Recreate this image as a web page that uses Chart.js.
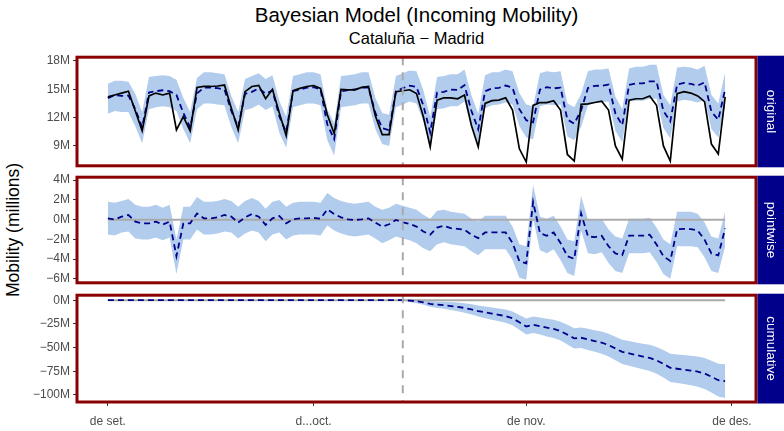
<!DOCTYPE html>
<html>
<head>
<meta charset="utf-8">
<script src="https://cdn.jsdelivr.net/npm/chart.js@4.4.1/dist/chart.umd.min.js"></script>
<style>
  body { margin: 0; width: 784px; height: 431px; background: #fff; position: relative; overflow: hidden;
         font-family: "Liberation Sans", Arial, sans-serif; }
  .t { position: absolute; left: 77px; width: 679px; text-align: center; color: #000; white-space: nowrap; }
  #title { top: 3px; font-size: 20.5px; }
  #subtitle { top: 29px; font-size: 16.5px; }
  #ytitle { position: absolute; left: 13px; top: 230px; transform: translate(-50%, -50%) rotate(-90deg);
            font-size: 17.5px; white-space: nowrap; color: #000; }
  canvas { position: absolute; left: 0; }
</style>
</head>
<body>
<div id="title" class="t">Bayesian Model (Incoming Mobility)</div>
<div id="subtitle" class="t">Cataluña − Madrid</div>
<div id="ytitle">Mobility (millions)</div>
<canvas id="cOriginal" width="784" height="129" style="top:47px"></canvas>
<canvas id="cPointwise" width="784" height="126" style="top:167px"></canvas>
<canvas id="cCumulative" width="784" height="146" style="top:285px"></canvas>
<script>
// day 0 = 1 Sep 2020, last day = 30 Nov 2020
const days = Array.from({ length: 91 }, (_, i) => i);
const interventionDay = 43;

const xTickDays = [0, 30, 61, 91];
const xTickLabels = ['de set.', 'd...oct.', 'de nov.', 'de des.'];

// millions
const original = [14.2,14.4,14.6,14.8,12.7,10.6,14.3,14.6,14.4,14.6,10.7,12.1,10.6,15.2,15.3,15.3,15.35,15.45,13.0,10.7,
  14.75,15.3,15.4,14.0,15.0,12.5,10.1,14.85,15.1,15.3,15.4,15.1,12.3,10.3,15.0,14.95,14.95,15.2,15.3,12.2,
  10.2,10.2,14.75,14.85,14.95,14.55,12.1,8.9,13.85,14.1,14.1,14.0,14.4,11.2,8.9,13.5,13.8,13.85,14.1,12.8,
  8.7,7.3,13.3,13.6,13.6,13.8,12.8,8.1,7.4,13.4,13.45,13.6,13.75,12.8,9.0,7.6,13.85,14.0,14.0,14.3,
  13.3,9.0,7.4,14.55,14.75,14.6,14.3,13.7,9.2,8.15,14.2];
const predicted = [14.07,14.4,14.3,14.33,12.9,10.97,14.67,14.8,14.9,14.8,14.4,12.5,10.97,14.57,15.17,15.17,15.12,14.98,12.7,11.0,
  14.52,14.73,15.1,14.53,14.87,12.13,10.47,14.82,14.97,15.17,15.23,15.0,11.27,9.73,14.77,14.92,14.98,15.17,15.17,12.5,
  10.9,10.67,14.78,15.12,15.38,15.25,13.3,10.43,14.65,14.73,14.97,14.93,15.43,12.73,10.77,14.8,15.1,15.15,15.4,15.17,
  12.9,11.73,11.5,14.97,15.23,15.1,15.17,11.8,11.37,12.77,15.15,15.37,15.38,15.5,12.43,11.2,15.48,15.63,15.63,15.83,
  15.83,12.7,11.6,15.52,15.68,15.57,15.4,15.73,12.63,11.78,15.0];
const predHigh = [15.6,15.9,15.9,15.8,14.5,12.6,16.3,16.4,16.5,16.4,16.0,14.1,12.6,16.2,16.8,16.8,16.7,16.6,14.3,12.6,
  16.1,16.4,16.7,16.1,16.5,13.8,12.1,16.4,16.6,16.8,16.8,16.6,12.9,11.4,16.4,16.5,16.6,16.8,16.8,14.1,
  12.5,12.3,16.4,16.7,17.0,16.9,14.9,12.1,16.3,16.4,16.6,16.6,17.1,14.4,12.4,16.5,16.8,16.8,17.1,16.9,
  14.6,13.4,13.2,16.7,16.9,16.8,16.9,13.5,13.1,14.5,16.9,17.1,17.1,17.2,14.2,12.9,17.2,17.4,17.4,17.6,
  17.6,14.4,13.3,17.3,17.4,17.3,17.1,17.5,14.4,13.5,16.8];
const predLow = [12.4,12.7,12.6,12.6,11.1,9.3,12.9,13.1,13.2,13.1,12.7,10.8,9.3,12.9,13.5,13.5,13.4,13.3,11.0,9.3,
  12.8,13.0,13.4,12.8,13.2,10.4,8.8,13.1,13.3,13.5,13.5,13.3,9.6,8.0,13.1,13.2,13.3,13.5,13.5,10.8,
  9.2,9.0,13.1,13.4,13.7,13.5,11.6,8.7,12.9,13.0,13.2,13.2,13.7,11.0,9.0,13.0,13.3,13.4,13.6,13.4,
  11.1,9.9,9.7,13.2,13.4,13.3,13.4,10.0,9.6,11.0,13.3,13.6,13.6,13.7,10.6,9.4,13.7,13.8,13.8,14.0,
  14.0,10.9,9.8,13.7,13.9,13.8,13.6,13.9,10.8,9.9,13.2];

const pointwise = [0.13,0,0.3,0.47,-0.2,-0.37,-0.37,-0.2,-0.5,-0.2,-3.7,-0.4,-0.37,0.63,0.13,0.13,0.23,0.47,0.3,-0.3,
  0.23,0.57,0.3,-0.53,0.13,0.37,-0.37,0.03,0.13,0.13,0.17,0.1,1.03,0.57,0.23,0.03,-0.03,0.03,0.13,-0.3,
  -0.7,-0.47,-0.03,-0.27,-0.43,-0.7,-1.2,-1.53,-0.8,-0.63,-0.87,-0.93,-1.03,-1.53,-1.87,-1.3,-1.3,-1.3,-1.3,-2.37,
  -4.2,-4.43,1.8,-1.37,-1.63,-1.3,-2.37,-3.7,-3.97,0.63,-1.7,-1.77,-1.63,-2.7,-3.43,-3.6,-1.63,-1.63,-1.63,-1.53,
  -2.53,-3.7,-4.2,-0.97,-0.93,-0.97,-1.1,-2.03,-3.43,-3.63,-0.9];
const pointHigh = [1.8,1.7,1.9,2.1,1.5,1.3,1.3,1.5,1.2,1.5,-2.0,1.3,1.3,2.3,1.8,1.8,1.9,2.1,1.9,1.3,
  1.9,2.2,1.9,1.1,1.8,2.0,1.3,1.7,1.8,1.8,1.8,1.7,2.7,2.2,1.9,1.7,1.6,1.7,1.8,1.3,
  1.0,1.2,1.6,1.4,1.2,1.0,0.5,0.1,0.9,1.0,0.8,0.7,0.6,0.1,-0.2,0.4,0.4,0.4,0.4,-0.7,
  -2.5,-2.7,3.5,0.3,0.1,0.4,-0.7,-2.0,-2.2,2.4,0.0,-0.1,0.1,-1.0,-1.7,-1.9,0.1,0.1,0.1,0.2,
  -0.8,-2.0,-2.5,0.8,0.8,0.8,0.6,-0.3,-1.7,-1.9,0.8];
const pointLow = [-1.5,-1.6,-1.3,-1.2,-1.9,-2.0,-2.0,-1.8,-2.1,-1.8,-5.5,-2.0,-2.0,-1.0,-1.5,-1.5,-1.4,-1.2,-1.3,-1.9,
  -1.4,-1.1,-1.3,-2.2,-1.5,-1.3,-2.0,-1.6,-1.5,-1.5,-1.5,-1.6,-0.6,-1.1,-1.4,-1.6,-1.7,-1.6,-1.5,-1.9,
  -2.4,-2.1,-1.7,-1.9,-2.1,-2.4,-2.9,-3.2,-2.5,-2.3,-2.5,-2.6,-2.7,-3.2,-3.6,-3.0,-3.0,-3.0,-3.0,-4.1,
  -5.9,-6.1,0.1,-3.1,-3.4,-3.0,-4.1,-5.4,-5.7,-1.1,-3.4,-3.5,-3.3,-4.4,-5.2,-5.4,-3.4,-3.4,-3.4,-3.3,
  -4.3,-5.5,-6.0,-2.7,-2.7,-2.7,-2.8,-3.8,-5.2,-5.4,-2.7];

const cumulative = [0,0,0,0,0,0,0,0,0,0,0,0,0,0,0,0,0,0,0,0,0,0,0,0,0,0,0,0,0,0,0,0,0,0,0,0,0,0,0,0,0,0,0,0,
  -0.4,-1.1,-2.3,-3.9,-4.7,-5.3,-6.2,-7.1,-8.1,-9.7,-11.5,-12.8,-14.1,-15.4,-16.7,-19.1,-23.3,-27.7,-25.9,-27.3,
  -28.9,-30.2,-32.6,-36.3,-40.3,-39.6,-41.3,-43.1,-44.7,-47.4,-50.9,-54.5,-56.1,-57.7,-59.4,-60.9,-63.4,-67.1,-71.3,-72.3,
  -73.2,-74.2,-75.3,-77.3,-80.7,-84.4,-85.3];
const cumHigh = [0,0,0,0,0,0,0,0,0,0,0,0,0,0,0,0,0,0,0,0,0,0,0,0,0,0,0,0,0,0,0,0,0,0,0,0,0,0,0,0,0,0,0,0,
  1.1,0.9,0.2,-0.9,-1.3,-1.5,-2.0,-2.5,-3.1,-4.3,-5.7,-6.7,-7.7,-8.7,-9.7,-11.8,-15.5,-19.2,-17.1,-18.3,
  -19.6,-20.6,-22.7,-26.0,-29.6,-28.7,-30.2,-31.7,-33.0,-35.4,-38.5,-41.7,-43.1,-44.5,-45.9,-47.1,-49.3,-52.6,-56.4,-57.2,
  -57.9,-58.6,-59.4,-61.0,-63.9,-67.1,-67.5];
const cumLow = [0,0,0,0,0,0,0,0,0,0,0,0,0,0,0,0,0,0,0,0,0,0,0,0,0,0,0,0,0,0,0,0,0,0,0,0,0,0,0,0,0,0,0,0,
  -1.9,-3.1,-4.8,-6.9,-8.1,-9.1,-10.4,-11.7,-13.1,-15.1,-17.3,-18.9,-20.5,-22.1,-23.7,-26.4,-31.1,-36.2,-34.7,-36.3,
  -38.2,-39.8,-42.5,-46.6,-51.0,-50.5,-52.4,-54.5,-56.4,-59.4,-63.3,-67.3,-69.1,-70.9,-72.9,-74.7,-77.5,-81.6,-86.2,-87.4,
  -88.5,-89.8,-91.2,-93.6,-97.5,-101.7,-103.1];

const yTicksOriginal = [9, 12, 15, 18];
const yLabelsOriginal = ['9M', '12M', '15M', '18M'];
const yTicksPointwise = [-6, -4, -2, 0, 2, 4];
const yLabelsPointwise = ['−6M', '−4M', '−2M', '0M', '2M', '4M'];
const yTicksCumulative = [-100, -75, -50, -25, 0];
const yLabelsCumulative = ['−100M', '−75M', '−50M', '−25M', '0M'];

const BAND = 'rgb(178,204,237)';
const NAVY = '#00008B';
const TICK_FONT = { family: 'Liberation Sans', size: 12 };

// vertical intervention line, dark red panel border and navy strip on the right
const facetPlugin = {
  id: 'facet',
  afterDatasetsDraw(chart) {
    const { ctx, chartArea: a } = chart;
    const px = chart.scales.x.getPixelForValue(interventionDay);
    ctx.save();
    ctx.strokeStyle = '#aaaaaa';
    ctx.lineWidth = 2;
    ctx.setLineDash([8, 7]);
    ctx.beginPath();
    ctx.moveTo(px, a.top);
    ctx.lineTo(px, a.bottom);
    ctx.stroke();
    ctx.restore();
  },
  afterDraw(chart, args, opts) {
    const { ctx, chartArea: a } = chart;
    ctx.save();
    ctx.strokeStyle = '#8B0000';
    ctx.lineWidth = 3;
    ctx.strokeRect(a.left, a.top, a.right - a.left, a.bottom - a.top);
    ctx.fillStyle = NAVY;
    ctx.fillRect(a.right + 1.5, a.top - 1.5, 26.5, a.bottom - a.top + 3);
    ctx.translate(a.right + 15, (a.top + a.bottom) / 2);
    ctx.rotate(Math.PI / 2);
    ctx.fillStyle = '#fff';
    ctx.font = '13.5px "Liberation Sans"';
    ctx.textAlign = 'center';
    ctx.textBaseline = 'middle';
    ctx.fillText(opts.label, 0, 0);
    ctx.restore();
  }
};

function bandSets(low, high) {
  return [
    { data: low, borderWidth: 0, pointRadius: 0, fill: false, order: 5 },
    { data: high, borderWidth: 0, pointRadius: 0, fill: '-1', backgroundColor: BAND, order: 4 }
  ];
}

function dashed(values) {
  return { data: values, borderColor: NAVY, borderWidth: 1.8, borderDash: [6, 4], pointRadius: 0, fill: false, order: 1 };
}

function zeroLine() {
  return { data: [{ x: days[0], y: 0 }, { x: days[days.length - 1], y: 0 }], borderColor: '#aaaaaa',
           borderWidth: 2, pointRadius: 0, fill: false, order: 3 };
}

function makePanel(id, o) {
  return new Chart(document.getElementById(id), {
    type: 'line',
    data: { labels: days, datasets: o.datasets },
    options: {
      responsive: false,
      animation: false,
      layout: { padding: { top: 10, bottom: o.showX ? 0 : 10, left: 0, right: 28 } },
      plugins: { legend: { display: false }, tooltip: { enabled: false }, facet: { label: o.label } },
      elements: { line: { tension: 0 } },
      scales: {
        x: {
          type: 'linear', min: -4.5, max: 94.5, display: o.showX,
          afterBuildTicks: s => { s.ticks = xTickDays.map(v => ({ value: v })); },
          afterFit: s => { if (o.showX) s.height = 29; },
          ticks: { color: '#4d4d4d', font: TICK_FONT, padding: 8, maxRotation: 0, autoSkip: false,
                   callback: v => xTickLabels[xTickDays.indexOf(v)] },
          grid: { drawOnChartArea: false, tickLength: 4, tickColor: '#333', lineWidth: 1 },
          border: { display: false }
        },
        y: {
          min: o.yMin, max: o.yMax,
          afterBuildTicks: s => { s.ticks = o.yTicks.map(v => ({ value: v })); },
          afterFit: s => { s.width = 77; },
          ticks: { color: '#4d4d4d', font: TICK_FONT, padding: 3, autoSkip: false,
                   callback: v => o.yLabels[o.yTicks.indexOf(v)] },
          grid: { drawOnChartArea: false, tickLength: 4, tickColor: '#333', lineWidth: 1 },
          border: { display: false }
        }
      }
    },
    plugins: [facetPlugin]
  });
}

makePanel('cOriginal', {
  label: 'original', yMin: 6.9, yMax: 18.4, yTicks: yTicksOriginal, yLabels: yLabelsOriginal, showX: false,
  datasets: [
    ...bandSets(predLow, predHigh),
    dashed(predicted),
    { data: original, borderColor: '#000', borderWidth: 1.7, pointRadius: 0, fill: false, order: 0 }
  ]
});

makePanel('cPointwise', {
  label: 'pointwise', yMin: -6.4, yMax: 4.3, yTicks: yTicksPointwise, yLabels: yLabelsPointwise, showX: false,
  datasets: [...bandSets(pointLow, pointHigh), zeroLine(), dashed(pointwise)]
});

makePanel('cCumulative', {
  label: 'cumulative', yMin: -107.4, yMax: 5.3, yTicks: yTicksCumulative, yLabels: yLabelsCumulative, showX: true,
  datasets: [...bandSets(cumLow, cumHigh), zeroLine(), dashed(cumulative)]
});
</script>
</body>
</html>
